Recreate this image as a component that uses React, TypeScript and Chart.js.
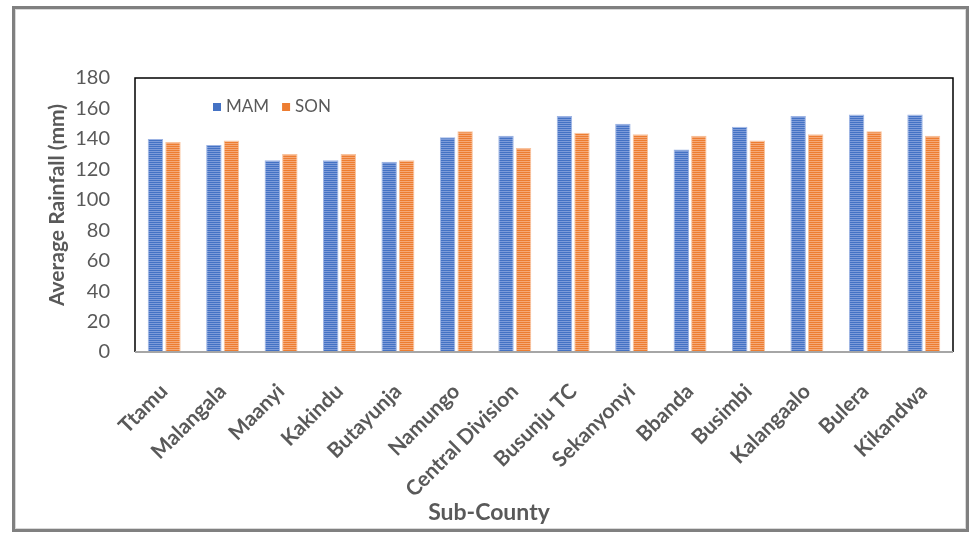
import React, { useEffect, useRef } from "react";
import { Chart, registerables } from "chart.js";

Chart.register(...registerables);

const subCounties = [
  "Ttamu",
  "Malangala",
  "Maanyi",
  "Kakindu",
  "Butayunja",
  "Namungo",
  "Central Division",
  "Busunju TC",
  "Sekanyonyi",
  "Bbanda",
  "Busimbi",
  "Kalangaalo",
  "Bulera",
  "Kikandwa",
];
const mamRainfall = [140, 136, 126, 126, 125, 141, 142, 155, 150, 133, 148, 155, 156, 156];
const sonRainfall = [138, 139, 130, 130, 126, 145, 134, 144, 143, 142, 139, 143, 145, 142];
const seriesNames = ["MAM", "SON"];
const yMin = 0;
const yMax = 180;
const yStep = 20;
const xTitle = "Sub-County";
const yTitle = "Average Rainfall (mm)";

const FONT = "Lato, 'Open Sans', sans-serif";
const TEXT = "#595959";
const BLUE = "#4472C4";
const BLUE_LIGHT = "#7d9bd9";
const ORANGE = "#ED7D31";
const ORANGE_LIGHT = "#f5a877";

// horizontal line fill used by the bars
function stripes(ctx: CanvasRenderingContext2D, base: string, light: string) {
  const tile = document.createElement("canvas");
  tile.width = 4;
  tile.height = 2;
  const g = tile.getContext("2d")!;
  g.fillStyle = base;
  g.fillRect(0, 0, 4, 1);
  g.fillStyle = light;
  g.fillRect(0, 1, 4, 1);
  return ctx.createPattern(tile, "repeat")!;
}

const framePlugin = {
  id: "plotFrame",
  afterDatasetsDraw(chart: any) {
    const { ctx, chartArea: a } = chart;
    ctx.save();
    ctx.strokeStyle = "#000";
    ctx.lineWidth = 1.5;
    ctx.beginPath();
    ctx.moveTo(a.left, a.bottom);
    ctx.lineTo(a.left, a.top);
    ctx.lineTo(a.right, a.top);
    ctx.lineTo(a.right, a.bottom);
    ctx.stroke();
    ctx.strokeStyle = "#a6a6a6";
    ctx.lineWidth = 2;
    ctx.beginPath();
    ctx.moveTo(a.left, a.bottom);
    ctx.lineTo(a.right, a.bottom);
    ctx.stroke();
    ctx.restore();
  },
};

const labelsPlugin = {
  id: "axisTitlesAndLegend",
  afterDraw(chart: any) {
    const { ctx, chartArea: a } = chart;
    ctx.save();
    ctx.fillStyle = TEXT;
    ctx.textAlign = "center";
    ctx.textBaseline = "middle";
    ctx.font = `bold 23px ${FONT}`;
    ctx.fillText(xTitle, 489, 513);
    ctx.font = `bold 21px ${FONT}`;
    ctx.translate(57, 205);
    ctx.rotate(-Math.PI / 2);
    ctx.fillText(yTitle, 0, 0);
    ctx.restore();

    // legend inside the plot area
    ctx.save();
    ctx.font = `17px ${FONT}`;
    ctx.textAlign = "left";
    ctx.textBaseline = "middle";
    const cy = a.top + 29;
    let x = a.left + 78;
    chart.data.datasets.forEach((ds: any, i: number) => {
      ctx.fillStyle = i === 0 ? BLUE : ORANGE;
      ctx.fillRect(x, cy - 4, 8, 8);
      ctx.fillStyle = TEXT;
      ctx.fillText(ds.label, x + 13, cy);
      x += 13 + ctx.measureText(ds.label).width + 13;
    });
    ctx.restore();
  },
};

export default function App() {
  const ref = useRef<HTMLCanvasElement>(null);

  useEffect(() => {
    const canvas = ref.current!;
    const ctx = canvas.getContext("2d")!;
    const chart = new Chart(ctx, {
      type: "bar",
      data: {
        labels: subCounties,
        datasets: [
          {
            label: seriesNames[0],
            data: mamRainfall,
            backgroundColor: stripes(ctx, BLUE, BLUE_LIGHT),
            borderColor: "#9db4e4",
            borderWidth: 1,
            categoryPercentage: 0.6,
            barPercentage: 0.88,
          },
          {
            label: seriesNames[1],
            data: sonRainfall,
            backgroundColor: stripes(ctx, ORANGE, ORANGE_LIGHT),
            borderColor: "#f8c39e",
            borderWidth: 1,
            categoryPercentage: 0.6,
            barPercentage: 0.88,
          },
        ],
      },
      options: {
        responsive: false,
        animation: false,
        layout: { padding: { left: 30, right: 18, top: 78, bottom: 0 } },
        plugins: {
          legend: { display: false },
          tooltip: { enabled: false },
        },
        scales: {
          x: {
            grid: { display: false, drawTicks: false },
            border: { display: false },
            ticks: {
              autoSkip: false,
              maxRotation: 45,
              minRotation: 45,
              padding: 27,
              color: TEXT,
              font: { family: FONT, size: 21, weight: "bold" },
            },
            afterFit: (s: any) => {
              s.height = 181;
            },
          },
          y: {
            min: yMin,
            max: yMax,
            grid: { display: false, drawTicks: false },
            border: { display: false },
            ticks: {
              stepSize: yStep,
              padding: 25,
              color: TEXT,
              font: { family: FONT, size: 20 },
            },
            afterFit: (s: any) => {
              s.width = 105;
            },
          },
        },
      },
      plugins: [framePlugin, labelsPlugin],
    });
    return () => chart.destroy();
  }, []);

  return (
    <div style={{ position: "fixed", left: 0, top: 0, width: 971, height: 533, background: "#fff" }}>
      <div
        style={{
          position: "absolute",
          left: 12,
          top: 6,
          width: 951,
          height: 520,
          border: "3px solid #808080",
          boxShadow: "inset 0 0 0 1px #d9d9d9",
        }}
      />
      <canvas ref={ref} width={971} height={533} style={{ position: "absolute", left: 0, top: 0 }} />
    </div>
  );
}
